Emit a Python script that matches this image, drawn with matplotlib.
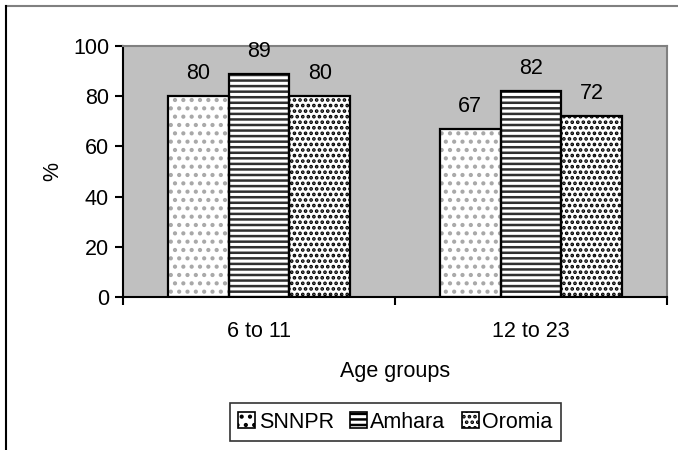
import matplotlib
matplotlib.use("Agg")
import matplotlib.pyplot as plt
from matplotlib.lines import Line2D
import numpy as np

age_groups = ["6 to 11", "12 to 23"]
regions = ["SNNPR", "Amhara", "Oromia"]
snnpr = [80, 67]
amhara = [89, 82]
oromia = [80, 72]
y_ticks = [0, 20, 40, 60, 80, 100]

plt.rcParams["font.family"] = ["Liberation Sans", "DejaVu Sans"]
plt.rcParams["font.size"] = 15.5
plt.rcParams["hatch.linewidth"] = 1.8

fig = plt.figure(figsize=(6.78, 4.5), dpi=100)
ax = fig.add_axes([0.1814, 0.34, 0.8024, 0.5578])
ax.set_facecolor("#C0C0C0")

x = np.arange(len(age_groups))
width = 0.224
series = [snnpr, amhara, oromia]
hatches = ["..", "---", "..."]
hcolors = ["#a8a8a8", "#303030", "black"]
offsets = [-width, 0, width]

handles = []
for vals, name, h, hc, off in zip(series, regions, hatches, hcolors, offsets):
    ax.bar(x + off, vals, width, color="white", edgecolor=hc, hatch=h,
           linewidth=0, zorder=2)
    ax.bar(x + off, vals, width, color="none", edgecolor="black",
           linewidth=1.6, zorder=3)
    for xi, v in zip(x + off, vals):
        ax.text(xi, v + 4.8, f"{v}", ha="center", va="bottom",
                zorder=4, clip_on=False)
    handles.append(plt.Rectangle((0, 0), 1, 1, facecolor="white",
                                 edgecolor="black", hatch=h, linewidth=1.2))

ax.set_xlim(-0.5, 1.5)
ax.set_ylim(0, 100)
ax.set_yticks(y_ticks)
ax.set_xticks(x)
ax.set_xticklabels(age_groups)
ax.set_xticks([-0.5, 0.5, 1.5], minor=True)
ax.tick_params(axis="x", which="major", length=0, pad=17)
ax.tick_params(axis="x", which="minor", length=6, width=1.5, direction="out")
ax.tick_params(axis="y", length=6, width=1.5, direction="out", pad=4)
ax.set_xlabel("Age groups", labelpad=14)
ax.set_ylabel("%", labelpad=7)

ax.spines["left"].set_linewidth(1.5)
ax.spines["bottom"].set_linewidth(1.5)
ax.spines["top"].set_color("#808080")
ax.spines["right"].set_color("#808080")
ax.spines["top"].set_linewidth(1.5)
ax.spines["right"].set_linewidth(1.5)

leg = fig.legend(handles, regions, loc="center", bbox_to_anchor=(0.583, 0.062),
                 ncol=3, frameon=True, fancybox=False, edgecolor="black",
                 handlelength=0.8, handleheight=0.8, handletextpad=0.15,
                 columnspacing=0.75, borderpad=0.38)
leg.get_frame().set_linewidth(1.2)

# outer chart frame
fig.add_artist(Line2D([6 / 678, 1], [1 - 6 / 450, 1 - 6 / 450],
                      transform=fig.transFigure, color="#808080", lw=1.5))
fig.add_artist(Line2D([6 / 678, 6 / 678], [0, 1 - 6 / 450],
                      transform=fig.transFigure, color="black", lw=1.5))

fig.savefig("out.png", dpi=100)
